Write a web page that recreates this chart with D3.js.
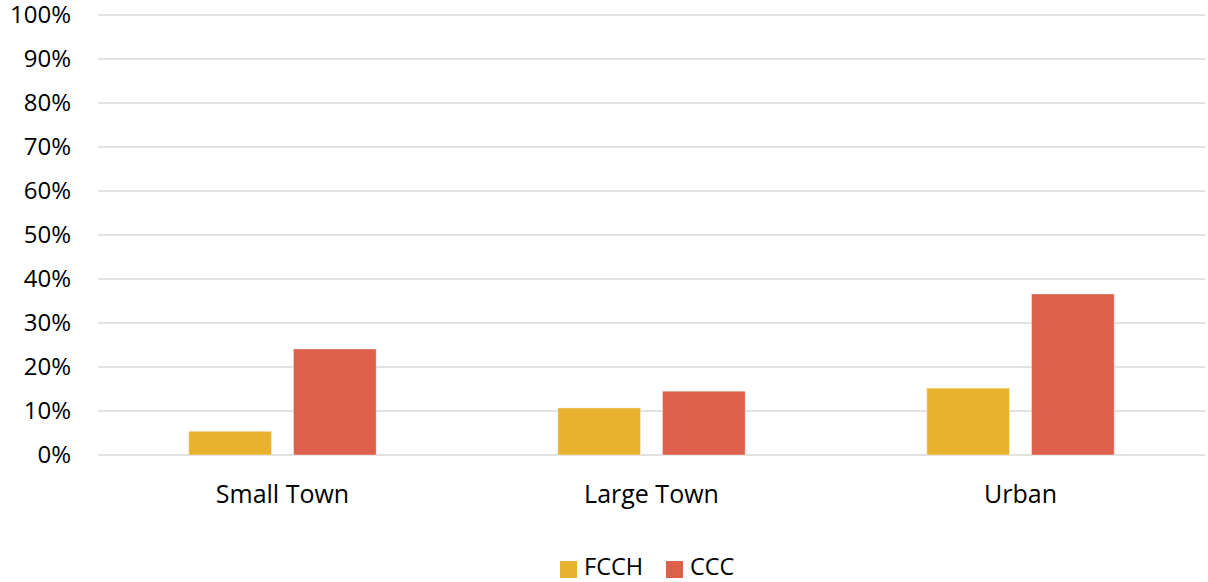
<!DOCTYPE html>
<html>
<head>
<meta charset="utf-8">
<script src="https://cdn.jsdelivr.net/npm/d3@7"></script>
<style>
    body { margin: 0; background: #fff; }
    svg text { font-family: "Open Sans", Lato, sans-serif; fill: #000; }
</style>
</head>
<body>
<svg width="1208" height="582"></svg>
<script>
let categories = ["Small Town", "Large Town", "Urban"];
let seriesNames = ["FCCH", "CCC"];
let fcch = [5.4, 10.7, 15.2];
let ccc = [24.1, 14.5, 36.6];
let yTicks = [0, 10, 20, 30, 40, 50, 60, 70, 80, 90, 100];
let colors = {FCCH: "#E8B22E", CCC: "#DC604A"};

let svg = d3.select("svg");
let margin = {top: 15, right: 3, bottom: 127, left: 98},
    width = +svg.attr("width") - margin.left - margin.right,
    height = +svg.attr("height") - margin.top - margin.bottom,
    g = svg.append("g").attr("transform", "translate(" + margin.left + "," + margin.top + ")");

let data = categories.map(function (c, i) {
    return {category: c, values: [{key: "FCCH", value: fcch[i]}, {key: "CCC", value: ccc[i]}]};
});

let x0 = d3.scaleBand().domain(categories).range([0, width]).padding(0);
let groupWidth = x0.bandwidth() * 0.508;
let x1 = d3.scaleBand().domain(seriesNames).range([0, groupWidth]).paddingInner(0.21).paddingOuter(0);
let y = d3.scaleLinear().domain([0, 100]).range([height, 0]);

// gridlines
g.append("g")
    .selectAll("line")
    .data(yTicks)
    .enter().append("line")
    .attr("x1", 0)
    .attr("x2", width)
    .attr("y1", function (d) { return y(d); })
    .attr("y2", function (d) { return y(d); })
    .attr("stroke", "#d9d9d9")
    .attr("stroke-width", 1.3);

// y axis labels
let yAxis = g.append("g")
    .attr("transform", "translate(-27,0)")
    .call(d3.axisLeft(y).tickValues(yTicks).tickSize(0).tickFormat(function (d) { return d + "%"; }));
yAxis.select(".domain").remove();
yAxis.selectAll("text")
    .attr("x", 0)
    .attr("dy", "7px")
    .style("font-size", "24px");

// bars
let group = g.selectAll(".group")
    .data(data)
    .enter().append("g")
    .attr("class", "group")
    .attr("transform", function (d) {
        return "translate(" + (x0(d.category) + (x0.bandwidth() - groupWidth) / 2) + ",0)";
    });

group.selectAll("rect")
    .data(function (d) { return d.values; })
    .enter().append("rect")
    .attr("x", function (d) { return x1(d.key); })
    .attr("y", function (d) { return y(d.value); })
    .attr("width", x1.bandwidth())
    .attr("height", function (d) { return y(0) - y(d.value); })
    .attr("fill", function (d) { return colors[d.key]; })
    .attr("stroke", "rgba(255,255,255,0.4)")
    .attr("stroke-width", 1);

// x axis labels
let xAxis = g.append("g")
    .attr("transform", "translate(0," + height + ")")
    .call(d3.axisBottom(x0).tickSize(0));
xAxis.select(".domain").remove();
xAxis.selectAll("text")
    .attr("y", 48)
    .attr("dy", 0)
    .style("font-size", "25px");

// legend
let legend = svg.append("g").attr("transform", "translate(560,561)");
let legendItems = [{key: "FCCH", x: 0}, {key: "CCC", x: 106}];
let item = legend.selectAll(".item")
    .data(legendItems)
    .enter().append("g")
    .attr("class", "item")
    .attr("transform", function (d) { return "translate(" + d.x + ",0)"; });
item.append("rect")
    .attr("width", 17)
    .attr("height", 17)
    .attr("fill", function (d) { return colors[d.key]; });
item.append("text")
    .attr("x", 24)
    .attr("y", 14)
    .style("font-size", "23.5px")
    .text(function (d) { return d.key; });
</script>
</body>
</html>
